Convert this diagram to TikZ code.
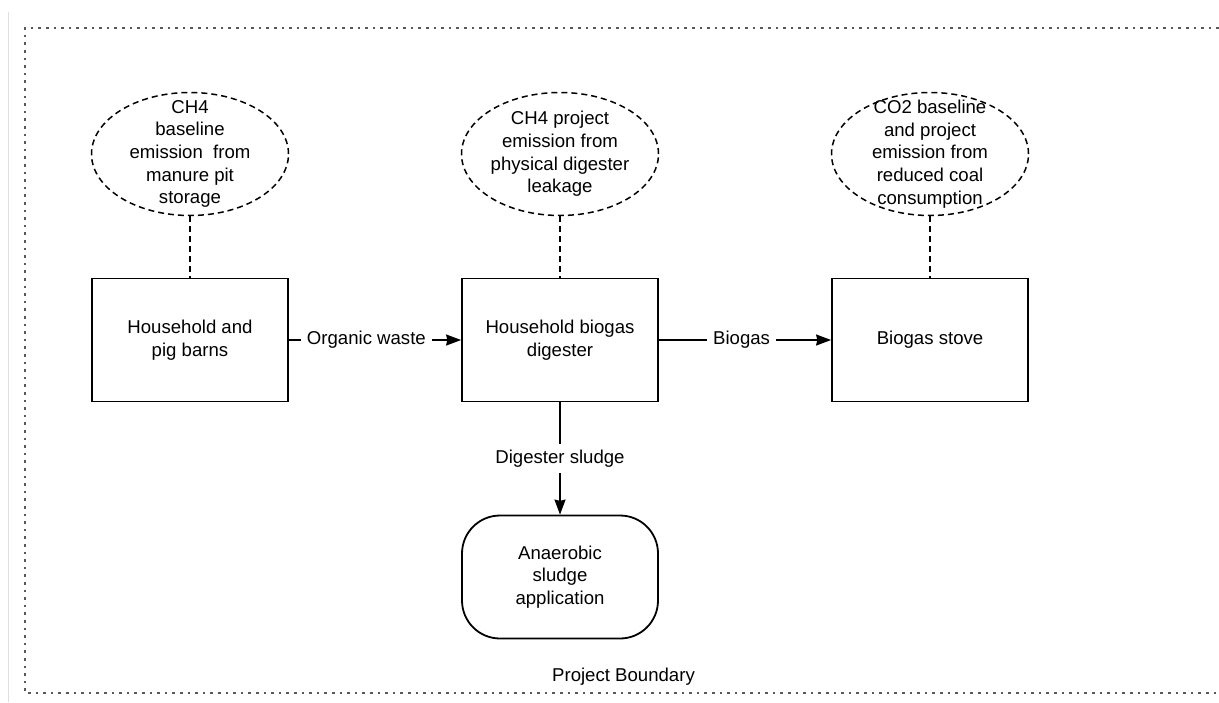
\documentclass[tikz,border=0pt]{standalone}
\usepackage{fontspec}
\setmainfont{Liberation Sans}
\usetikzlibrary{arrows.meta,shapes.geometric}

\begin{document}
\begin{tikzpicture}[>={Stealth[length=7.5pt,width=5.5pt,inset=0.6pt]},node distance=185pt,
  line width=0.75pt,font=\fontsize{9.3}{11.3}\selectfont,
  stage/.style={draw,line width=0.9pt,minimum width=98pt,minimum height=61.5pt,align=center},
  term/.style={stage,rounded corners=19pt},
  emis/.style={draw,ellipse,dash pattern=on 3pt off 2pt,minimum width=98.5pt,minimum height=61.5pt,inner sep=0pt},
  note/.style={align=center},
  flow/.style={fill=white,inner sep=3pt}]

  \useasboundingbox (0,0) rectangle (609.5pt,-351pt);
  \draw[gray!25,line width=0.5pt] (4pt,-6pt) -- (4pt,-351pt);
  \draw[black!65,line width=0.7pt,dash pattern=on 1.3pt off 2.5pt]
    (609.5pt,-14pt) -| (12.5pt,-346.5pt) -- (609.5pt,-346.5pt);

  \node[stage] (hh) at (95pt,-170pt)
    {Household and\\pig barns};
  \node[stage] (dig) [right of = hh]
    {Household biogas\\digester};
  \node[stage] (stove) [right of = dig]
    {Biogas stove};
  \node[term] (app) [below of = dig, node distance=118.5pt]
    {Anaerobic\\sludge\\application};

  \node[emis,label={[note]center:{CH4\\baseline\\emission~ from\\manure pit\\storage}}]
    (ch4base) [above of = hh, node distance=93pt] {};
  \node[emis,label={[note]center:{CH4 project\\emission from\\physical digester\\leakage}}]
    (ch4proj) [above of = dig, node distance=93pt] {};
  \node[emis,label={[note]center:{CO2 baseline\\and project\\emission from\\reduced coal\\consumption}}]
    (co2) [above of = stove, node distance=93pt] {};

  \node (bnd) at (311.75pt,-338.5pt) {Project Boundary};

  \path[->]
    (hh) edge node[flow,pos=0.45] {Organic waste} (dig)
    (dig) edge node[flow,pos=0.48] {Biogas} (stove)
    (dig) edge node[flow] {Digester sludge} (app);

  \path[dash pattern=on 3pt off 2pt]
    (ch4base) edge (hh)
    (ch4proj) edge (dig)
    (co2) edge (stove);

\end{tikzpicture}
\end{document}
